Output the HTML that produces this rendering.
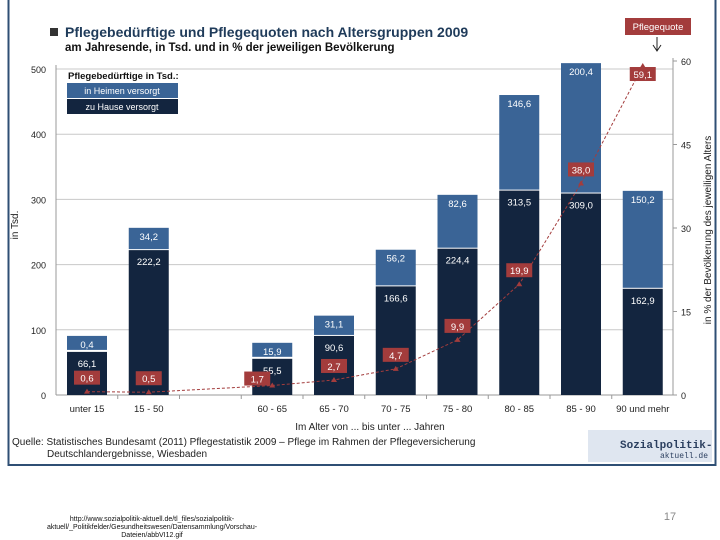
<!DOCTYPE html>
<html><head><meta charset="utf-8"><style>
body{margin:0;width:720px;height:540px;background:#fff;font-family:"Liberation Sans",sans-serif;overflow:hidden}
svg{position:absolute;left:0;top:0}
</style></head><body>
<svg width="720" height="540">
<rect x="8.5" y="-2" width="707" height="467" fill="#fff" stroke="#2f4f74" stroke-width="2"/>
<rect x="50" y="28" width="8" height="8" fill="#333"/>
<text x="65" y="37" font-size="14" font-weight="bold" fill="#1f3b5a">Pflegebedürftige und Pflegequoten nach Altersgruppen 2009</text>
<text x="65" y="51" font-size="11.5" font-weight="bold" fill="#111">am Jahresende, in Tsd. und in % der jeweiligen Bevölkerung</text>
<rect x="625" y="18" width="66" height="17" fill="#a33c3c"/>
<text x="658" y="30" font-size="9.5" fill="#fff" text-anchor="middle">Pflegequote</text>
<path d="M657 37 L657 50 M653 45 L657 51 L661 45" stroke="#222" fill="none"/>
<g id="grid"></g><g id="bars"></g><g id="line"></g><g id="axes"></g>
<g>
<text x="68" y="79" font-size="9.5" font-weight="bold" fill="#111">Pflegebedürftige in Tsd.:</text>
<rect x="67" y="83" width="111" height="15" fill="#3a6496"/>
<text x="122" y="94" font-size="9" fill="#fff" text-anchor="middle">in Heimen versorgt</text>
<rect x="67" y="99" width="111" height="15" fill="#13253f"/>
<text x="122" y="110" font-size="9" fill="#fff" text-anchor="middle">zu Hause versorgt</text>
</g>
<text transform="translate(18,225) rotate(-90)" font-size="10" fill="#222" text-anchor="middle">in Tsd.</text>
<text transform="translate(711,230) rotate(-90)" font-size="10" fill="#222" text-anchor="middle">in % der Bevölkerung des jeweiligen Alters</text>
<text x="370" y="430" font-size="10" fill="#222" text-anchor="middle">Im Alter von ... bis unter ... Jahren</text>
<text x="12" y="445" font-size="10" fill="#222">Quelle: Statistisches Bundesamt (2011) Pflegestatistik 2009 – Pflege im Rahmen der Pflegeversicherung</text>
<text x="47" y="457" font-size="10" fill="#222">Deutschlandergebnisse, Wiesbaden</text>
<rect x="588" y="430" width="124" height="32" fill="#dfe6f0"/>
<text x="620" y="448" font-size="11" font-weight="bold" font-family="Liberation Mono,monospace" fill="#2b3f5f">Sozialpolitik-</text>
<text x="708" y="458" font-size="8" font-family="Liberation Mono,monospace" fill="#2b3f5f" text-anchor="end">aktuell.de</text>
<text x="152" y="521" font-size="7" fill="#111" text-anchor="middle">http://www.sozialpolitik-aktuell.de/tl_files/sozialpolitik-</text>
<text x="152" y="529" font-size="7" fill="#111" text-anchor="middle">aktuell/_Politikfelder/Gesundheitswesen/Datensammlung/Vorschau-</text>
<text x="152" y="537" font-size="7" fill="#111" text-anchor="middle">Dateien/abbVI12.gif</text>
<text x="670" y="520" font-size="11" fill="#888" text-anchor="middle">17</text>
</svg>
<script>
const categories=["unter 15","15 - 50","","60 - 65","65 - 70","70 - 75","75 - 80","80 - 85","85 - 90","90 und mehr"];
const zuHause=[66.1,222.2,null,55.5,90.6,166.6,224.4,313.5,309.0,162.9];
const inHeimen=[0.4,34.2,null,15.9,31.1,56.2,82.6,146.6,200.4,150.2];
const quote=[0.6,0.5,null,1.7,2.7,4.7,9.9,19.9,38.0,59.1];
const zuHauseLabels=["66,1","222,2","","55,5","90,6","166,6","224,4","313,5","309,0","162,9"];
const inHeimenLabels=["0,4","34,2","","15,9","31,1","56,2","82,6","146,6","200,4","150,2"];
const quoteLabels=["0,6","0,5","","1,7","2,7","4,7","9,9","19,9","38,0","59,1"];
const leftTicks=[0,100,200,300,400,500];
const rightTicks=[0,15,30,45,60];
const NS="http://www.w3.org/2000/svg";
const y0=395,yTop=69,xL=56,xR=673;
const y=v=>y0-(Math.min(v,509))*(y0-yTop)/500;
const y2=v=>y0-v*(y0-61)/60;
const x=i=>87+i*61.75;
function mk(p,t,a){const e=document.createElementNS(NS,t);for(const k in a)e.setAttribute(k,a[k]);document.getElementById(p).appendChild(e);return e;}
leftTicks.forEach(t=>{
 const g=mk('grid','line',{x1:xL,x2:xR,y1:y(t),y2:y(t),stroke:t?'#c8c8c8':'#999'});
 
 
 const l=mk('axes','text',{x:46,y:y(t)+4,'font-size':9,'text-anchor':'end',fill:'#222'});l.textContent=t;
 
 
});
rightTicks.forEach(t=>{
 const l=mk('axes','text',{x:681,y:y2(t)+4,'font-size':9,fill:'#222'});l.textContent=t;
 
 
 mk('axes','line',{x1:xR,x2:xR+4,y1:y2(t),y2:y2(t),stroke:'#999'});
});
mk('axes','line',{x1:xL,x2:xL,y1:yTop-4,y2:y0,stroke:'#999'});
mk('axes','line',{x1:xR,x2:xR,y1:58,y2:y0,stroke:'#999'});
categories.forEach((c,i)=>{
 const l=mk('axes','text',{x:x(i),y:412,'font-size':9.5,'text-anchor':'middle',fill:'#222'});l.textContent=c;
 
 
 if(i>0)mk('axes','line',{x1:x(i)-31,x2:x(i)-31,y1:y0,y2:y0+4,stroke:'#999'});
 if(zuHause[i]==null)return;
 const w=40,bx=x(i)-20;
 const b1=mk('bars','rect',{x:bx,y:y(zuHause[i]),width:w,height:y0-y(zuHause[i]),fill:'#13253f'});
 
 
 const tot=zuHause[i]+inHeimen[i];
 const top=y(tot);
 let hTop=top,hH=y(zuHause[i])-top-1;
 if(hH<14){hTop=y(zuHause[i])-16;hH=14;}
 const b2=mk('bars','rect',{x:bx,y:hTop,width:w,height:hH,fill:'#3a6496'});
 
 
 const t2=mk('bars','text',{x:x(i),y:hTop+12,'font-size':9.5,'text-anchor':'middle',fill:'#fff'});t2.textContent=inHeimenLabels[i];
 
 
 const t1=mk('bars','text',{x:x(i),y:y(zuHause[i])+15,'font-size':9.5,'text-anchor':'middle',fill:'#fff'});t1.textContent=zuHauseLabels[i];
 
 
});
let d='';quote.forEach((q,i)=>{if(q==null)return;d+=(d?'L':'M')+x(i)+' '+y2(q);});
const pl=mk('line','path',{d:d,stroke:'#a33c3c',fill:'none','stroke-dasharray':'3,2'});


quote.forEach((q,i)=>{
 if(q==null)return;
 const px=x(i),py=y2(q);
 const m=mk('line','path',{d:`M${px-3} ${py+2}L${px} ${py-3}L${px+3} ${py+2}Z`,fill:'#a33c3c'});
 
 
 let lx=px,ly=py-14;
 if(i===3){lx=px-15;ly=py-7;}
 if(i===9){ly=py+8;}
 const r=mk('line','rect',{x:lx-13,y:ly-7,width:26,height:14,fill:'#a33c3c'});
 
 
 const t=mk('line','text',{x:lx,y:ly+4,'font-size':9.5,'text-anchor':'middle',fill:'#fff'});t.textContent=quoteLabels[i];
 
 
});
</script>
</body></html>
